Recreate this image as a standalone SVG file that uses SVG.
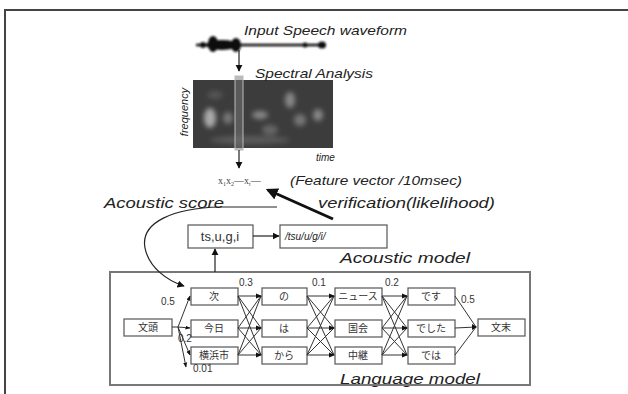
<svg xmlns="http://www.w3.org/2000/svg" width="628" height="394" viewBox="0 0 628 394">
<style>
.lbl{font-family:"Liberation Sans",Arial,sans-serif;font-style:italic;fill:#222}
.jp{font-family:"Noto Sans CJK JP","Noto Sans",sans-serif;font-size:10px;fill:#333;text-anchor:middle}
.num{font-family:"Liberation Sans",Arial,sans-serif;font-size:10px;fill:#333}
.box{fill:#fff;stroke:#555;stroke-width:1.2}
.ln{fill:none;stroke:#222;stroke-width:1.2}
.thin{fill:none;stroke:#333;stroke-width:1}
</style>
<defs>
<marker id="ah" viewBox="0 0 10 10" refX="9" refY="5" markerWidth="6" markerHeight="6" orient="auto-start-reverse"><path d="M0,0 L10,5 L0,10 z" fill="#111"/></marker>
<marker id="ahs" viewBox="0 0 10 10" refX="9" refY="5" markerWidth="5" markerHeight="5" orient="auto"><path d="M0,1 L10,5 L0,9 z" fill="#111"/></marker>
<marker id="ahb" viewBox="0 0 10 10" refX="8" refY="5" markerWidth="4" markerHeight="4" orient="auto"><path d="M0,0 L10,5 L0,10 z" fill="#111"/></marker>
<filter id="bl" x="-30%" y="-30%" width="160%" height="160%"><feGaussianBlur stdDeviation="2.5"/></filter>
<filter id="bw" x="-10%" y="-50%" width="120%" height="200%"><feGaussianBlur stdDeviation="0.8"/></filter>
<clipPath id="sc"><rect x="193" y="80" width="140" height="68"/></clipPath>
</defs>
<rect width="628" height="394" fill="#fff"/>
<!-- frame -->
<path d="M5,394 V10 H628" fill="none" stroke="#444" stroke-width="2"/>

<!-- waveform -->
<g id="waveform">
<g filter="url(#bw)">
<line x1="196" y1="45" x2="326" y2="45" stroke="#111" stroke-width="2.5"/>
<ellipse cx="222" cy="45" rx="16" ry="5" fill="#111"/>
<ellipse cx="213" cy="44" rx="5" ry="8" fill="#111"/>
<ellipse cx="236" cy="45" rx="5" ry="7" fill="#111"/>
<ellipse cx="203" cy="45" rx="3" ry="3" fill="#111"/>
<ellipse cx="305" cy="45" rx="2.5" ry="2.5" fill="#111"/>
<ellipse cx="322" cy="45" rx="4" ry="3.5" fill="#111"/>
</g>
<text class="lbl" x="244" y="35" font-size="13" textLength="163" lengthAdjust="spacingAndGlyphs">Input Speech waveform</text>
</g>

<!-- spectrogram -->
<g id="spectrogram">
<rect x="193" y="80" width="140" height="68" fill="#3c3c3c"/>
<g clip-path="url(#sc)" filter="url(#bl)">
<ellipse cx="210" cy="118" rx="6" ry="10" fill="#aaa"/>
<ellipse cx="228" cy="118" rx="5" ry="6" fill="#777"/>
<ellipse cx="260" cy="115" rx="8" ry="4" fill="#888"/>
<ellipse cx="290" cy="100" rx="5" ry="8" fill="#888"/>
<ellipse cx="300" cy="120" rx="6" ry="6" fill="#777"/>
<ellipse cx="318" cy="115" rx="5" ry="6" fill="#888"/>
<ellipse cx="250" cy="140" rx="40" ry="4" fill="#5a5a5a"/>
<ellipse cx="215" cy="95" rx="8" ry="4" fill="#555"/>
<ellipse cx="270" cy="130" rx="8" ry="5" fill="#666"/>
</g>
<rect x="235" y="76" width="8" height="74" fill="#777" fill-opacity="0.5" stroke="#bbb" stroke-width="1"/>
<text class="lbl" x="255" y="78" font-size="13" textLength="118" lengthAdjust="spacingAndGlyphs">Spectral Analysis</text>
<text class="lbl" x="188" y="112" font-size="11" transform="rotate(-90 188 112)" text-anchor="middle">frequency</text>
<text class="lbl" x="316" y="161" font-size="10">time</text>
</g>

<!-- feature vector -->
<g id="feature">
<text x="218" y="184" font-family="Liberation Serif,serif" font-size="10" fill="#444">x<tspan font-size="6" dy="2">1</tspan><tspan dy="-2">x</tspan><tspan font-size="6" dy="2">2</tspan><tspan dy="-2">—x</tspan><tspan font-size="6" dy="2">t</tspan><tspan dy="-2">—</tspan></text>
<text class="lbl" x="290" y="185" font-size="13" textLength="172" lengthAdjust="spacingAndGlyphs">(Feature vector /10msec)</text>
</g>

<g id="labels">
<text class="lbl" x="104" y="208" font-size="15" textLength="120" lengthAdjust="spacingAndGlyphs">Acoustic score</text>
<text class="lbl" x="318" y="208" font-size="14" textLength="177" lengthAdjust="spacingAndGlyphs">verification(likelihood)</text>
<text class="lbl" x="340" y="263" font-size="15" textLength="130" lengthAdjust="spacingAndGlyphs">Acoustic model</text>
<text class="lbl" x="340" y="384" font-size="15" textLength="140" lengthAdjust="spacingAndGlyphs">Language model</text>
</g>

<g id="phonemes">
<rect class="box" x="188" y="225" width="65" height="23"/>
<text x="220" y="241" font-family="Liberation Sans,Arial,sans-serif" font-size="13" fill="#333" text-anchor="middle">ts,u,g,i</text>
</g>
<g id="acoustic-model">
<rect class="box" x="280" y="225" width="107" height="23"/>
<text class="lbl" x="285" y="240" font-size="10">/tsu/u/g/i/</text>
</g>

<!-- language model -->
<g id="language-model">
<rect x="110" y="272" width="420" height="113" fill="none" stroke="#777" stroke-width="2"/>
</g>
<g id="n-bos"><rect class="box" x="124" y="319" width="48" height="17"/><text class="jp" x="148" y="331">文頭</text></g>
<g id="n-tsugi"><rect class="box" x="191" y="288" width="47" height="17"/><text class="jp" x="214" y="300">次</text></g>
<g id="n-kyou"><rect class="box" x="191" y="320" width="47" height="17"/><text class="jp" x="214" y="332">今日</text></g>
<g id="n-yokohama"><rect class="box" x="191" y="347" width="47" height="17"/><text class="jp" x="214" y="359">横浜市</text></g>
<g id="n-no"><rect class="box" x="262" y="288" width="45" height="17"/><text class="jp" x="284" y="300">の</text></g>
<g id="n-ha"><rect class="box" x="262" y="320" width="45" height="17"/><text class="jp" x="284" y="332">は</text></g>
<g id="n-kara"><rect class="box" x="262" y="347" width="45" height="17"/><text class="jp" x="284" y="359">から</text></g>
<g id="n-news"><rect class="box" x="335" y="288" width="47" height="17"/><text class="jp" x="358" y="300">ニュース</text></g>
<g id="n-kokkai"><rect class="box" x="335" y="320" width="47" height="17"/><text class="jp" x="358" y="332">国会</text></g>
<g id="n-chukei"><rect class="box" x="335" y="347" width="47" height="17"/><text class="jp" x="358" y="359">中継</text></g>
<g id="n-desu"><rect class="box" x="408" y="288" width="47" height="17"/><text class="jp" x="431" y="300">です</text></g>
<g id="n-deshita"><rect class="box" x="408" y="320" width="47" height="17"/><text class="jp" x="431" y="332">でした</text></g>
<g id="n-dewa"><rect class="box" x="408" y="347" width="47" height="17"/><text class="jp" x="431" y="359">では</text></g>
<g id="n-eos"><rect class="box" x="478" y="319" width="47" height="17"/><text class="jp" x="501" y="331">文末</text></g>

<!-- connectors -->
<g id="connectors">
<line class="ln" x1="239" y1="50" x2="239" y2="71" marker-end="url(#ah)"/>
<line class="ln" x1="239" y1="150" x2="239" y2="168" marker-end="url(#ah)"/>
<line x1="333" y1="219" x2="268" y2="190" stroke="#111" stroke-width="3" marker-end="url(#ahb)"/>
<path class="ln" d="M277,207 L220,207 C174,208 140,222 145,248 C149,268 168,281 184,286" marker-end="url(#ah)"/>
<line class="ln" x1="253" y1="236" x2="279" y2="236" marker-end="url(#ah)"/>
<line class="ln" x1="215" y1="272" x2="215" y2="249" marker-end="url(#ah)"/>
<!-- from BOS -->
<path class="thin" d="M172,327 L178,327 L190,296" marker-end="url(#ahs)"/>
<path class="thin" d="M178,327 L190,328" marker-end="url(#ahs)"/>
<path class="thin" d="M178,327 L190,355" marker-end="url(#ahs)"/>
<path class="thin" d="M178,327 L186,367" marker-end="url(#ahs)"/>
<!-- col1 -> col2 -->
<path class="thin" d="M238,296 L261,296 M238,296 L261,328 M238,296 L261,355 M238,328 L261,296 M238,328 L261,328 M238,328 L261,355 M238,355 L261,296 M238,355 L261,328 M238,355 L261,355"/>
<!-- col2 -> col3 -->
<path class="thin" d="M307,296 L334,296 M307,296 L334,328 M307,296 L334,355 M307,328 L334,296 M307,328 L334,328 M307,328 L334,355 M307,355 L334,296 M307,355 L334,328 M307,355 L334,355"/>
<!-- col3 -> col4 -->
<path class="thin" d="M382,296 L407,296 M382,296 L407,328 M382,296 L407,355 M382,328 L407,296 M382,328 L407,328 M382,328 L407,355 M382,355 L407,296 M382,355 L407,328 M382,355 L407,355"/>
<g fill="#111">
<path d="M262,296 l-6,-2.5 v5z M262,328 l-6,-2.5 v5z M262,355 l-6,-2.5 v5z"/>
<path d="M335,296 l-6,-2.5 v5z M335,328 l-6,-2.5 v5z M335,355 l-6,-2.5 v5z"/>
<path d="M408,296 l-6,-2.5 v5z M408,328 l-6,-2.5 v5z M408,355 l-6,-2.5 v5z"/>
</g>
<!-- col4 -> EOS -->
<path class="thin" d="M455,296 L476,327 M455,328 L476,327 M455,355 L476,327"/>
<path d="M477,327 l-5,-3 v6z" fill="#111"/>
</g>

<g id="probs">
<text class="num" x="161" y="305">0.5</text>
<text class="num" x="178" y="342">0.2</text>
<text class="num" x="193" y="372">0.01</text>
<text class="num" x="239" y="286">0.3</text>
<text class="num" x="312" y="286">0.1</text>
<text class="num" x="385" y="286">0.2</text>
<text class="num" x="461" y="303">0.5</text>
</g>
</svg>
